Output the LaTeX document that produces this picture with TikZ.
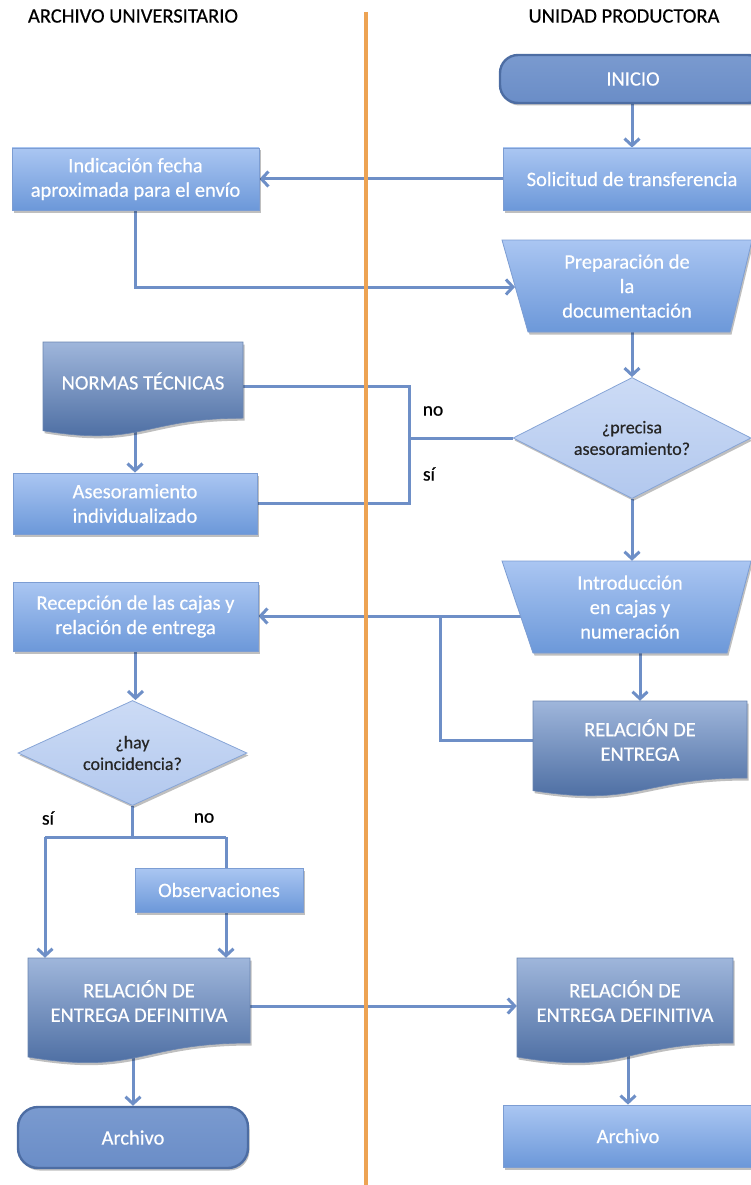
\documentclass[tikz,border=0pt]{standalone}
\usepackage{fontspec}
\setmainfont{Carlito}[FakeBold=0.4]
\usetikzlibrary{arrows.meta,shapes.geometric,shadows,backgrounds}
\definecolor{lbtop}{HTML}{AAC6F2}
\definecolor{lbbot}{HTML}{6C98D9}
\definecolor{lbedge}{HTML}{7C9DD3}
\definecolor{doctop}{HTML}{9FB6DB}
\definecolor{docbot}{HTML}{45679D}
\definecolor{termtop}{HTML}{7A9ACF}
\definecolor{termbot}{HTML}{6A8DC7}
\definecolor{termedge}{HTML}{4D6DA3}
\definecolor{dtop}{HTML}{CCDBF5}
\definecolor{dbot}{HTML}{B2C8EE}
\definecolor{dedge}{HTML}{86A4D6}
\definecolor{conncol}{HTML}{6E8FC7}
\definecolor{lane}{HTML}{EDA353}
\tikzset{
 boxshadow/.style={drop shadow={shadow xshift=1.5pt, shadow yshift=-2.5pt, opacity=0.25, fill=black}},
 boxtxt/.style={text=white, font=\fontsize{20.5}{24.5}\selectfont, align=center},
 txt/.style={boxtxt, inner sep=0pt},
 lightbox/.style={boxtxt, rectangle, draw=lbedge, line width=0.8pt, top color=lbtop, bottom color=lbbot, inner sep=0pt, boxshadow},
 terminal/.style={boxtxt, rectangle, rounded corners=18pt, draw=termedge, line width=2.4pt, top color=termtop, bottom color=termbot, inner sep=0pt, boxshadow},
 decision/.style={diamond, draw=dedge, line width=0.8pt, top color=dtop, bottom color=dbot, font=\fontsize{18}{21.5}\selectfont, align=center, text=black!85, inner sep=0pt, boxshadow},
 trapfill/.style={draw=lbedge, line width=0.8pt, top color=lbtop, bottom color=lbbot, boxshadow},
 docfill/.style={draw=docbot!80, line width=0.6pt, top color=doctop, bottom color=docbot, boxshadow},
 lbl/.style={font=\fontsize{19.5}{22}\selectfont, text=black},
 ttl/.style={font=\fontsize{20.5}{23}\selectfont, text=black},
 conn/.style={draw=conncol, line width=3pt},
 arr/.style={conn, -{Straight Barb[length=7pt,width=15pt]}},
 lanestyle/.style={draw=lane, line width=4pt}
}
\newcommand{\docshape}[4]{% x1, y1, x2, h
 \path[docfill] (#1,#2) -- (#3,#2) -- (#3,{#2+0.802*#4})
   .. controls ({(#1+#3)/2},{#2+0.802*#4}) and ({(#1+#3)/2},{#2+1.1075*#4}) .. (#1,{#2+0.934*#4}) -- cycle;}
\begin{document}
\begin{tikzpicture}[x=1pt,y=-1pt]
\useasboundingbox (0,0) rectangle (751,1185);

% lane divider and titles
\coordinate (laneTop) at (366,12);
\coordinate (laneBot) at (366,1190);
\draw[lanestyle] (laneTop) -- (laneBot);
\node[ttl] (t1) at (133,16) {ARCHIVO UNIVERSITARIO};
\node[ttl] (t2) at (624,16) {UNIDAD PRODUCTORA};

% right column
\node[terminal, minimum width=266, minimum height=48] (ini) at (633,79) {INICIO};
\node[lightbox, minimum width=258, minimum height=62] (sol) at (632,179) {Solicitud de transferencia};
\path[trapfill] (502,240) -- (752,240) -- (730,332) -- (528,332) -- cycle;
\node[txt, minimum width=250, minimum height=92] (prep) at (627,286) {Preparación de\\la\\documentación};
\coordinate (prepW) at (515,287);
\node[decision, aspect=1.97, minimum width=238, minimum height=121] (d1) at (632,438) {¿precisa\\asesoramiento?};
\path[trapfill] (502,561) -- (751,561) -- (727,653) -- (533,653) -- cycle;
\node[txt, minimum width=249, minimum height=92] (intro) at (630,607) {Introducción\\en cajas y\\numeración};
\coordinate (introW) at (525,616);
\docshape{533}{701}{747}{96}
\node[txt, minimum width=214, minimum height=78] (relE) at (640,740) {RELACIÓN DE\\ENTREGA};
\docshape{517}{958}{733}{106}
\node[txt, minimum width=216, minimum height=86] (relD2) at (625,1001) {RELACIÓN DE\\ENTREGA DEFINITIVA};
\node[lightbox, minimum width=250, minimum height=62] (arch2) at (628,1136) {Archivo};

% left column
\node[lightbox, minimum width=247, minimum height=62] (ind) at (135.5,179) {Indicación fecha\\aproximada para el envío};
\docshape{43}{342}{243}{95}
\node[txt, minimum width=200, minimum height=78] (normas) at (143,381) {NORMAS TÉCNICAS};
\node[lightbox, minimum width=244, minimum height=61] (ases) at (135,503.5) {Asesoramiento\\individualizado};
\node[lightbox, minimum width=245, minimum height=69] (rec) at (135.5,616.5) {Recepción de las cajas y\\relación de entrega};
\node[decision, aspect=2.18, minimum width=229, minimum height=105] (d2) at (132.5,753) {¿hay\\coincidencia?};
\node[lightbox, minimum width=168, minimum height=44] (obs) at (219,890) {Observaciones};
\docshape{28}{958}{250}{106}
\node[txt, minimum width=222, minimum height=86] (relD) at (139,1001) {RELACIÓN DE\\ENTREGA DEFINITIVA};
\node[terminal, rounded corners=20pt, minimum width=230, minimum height=61] (arch1) at (133,1137.5) {Archivo};

% labels
\node[lbl] (lno1) at (433,411) {no};
\node[lbl] (lsi1) at (429,474) {sí};
\node[lbl] (lsi2) at (48,818) {sí};
\node[lbl] (lno2) at (204,818) {no};

% junctions
\coordinate (jn) at (409,386);
\coordinate (js) at (409,503);
\coordinate (jb) at (440,616);
\coordinate (jl) at (45,837);
\coordinate (jr) at (226,837);

\begin{pgfonlayer}{background}
\draw[arr] (ini.south -| sol.north) -- (sol.north);
\draw[arr] (sol.west) -- (ind.east);
\draw[arr] (ind.south) |- (prepW);
\draw[arr] (d1.north |- prep.south) -- (d1.north);
\draw[conn] (normas.east |- jn) -- (jn) -- (js) -- (ases.east |- js);
\draw[conn] (d1.west) -- (d1.west -| jn);
\draw[arr] (ases.north |- normas.south) -- (ases.north);
\draw[arr] (d1.south) -- (d1.south |- intro.north);
\draw[arr] (introW) -- (rec.east |- introW);
\draw[conn] (jb) |- (relE.west);
\draw[arr] (relE.north |- intro.south) -- (relE.north);
\draw[arr] (rec.south) -- (rec.south |- d2.north);
\draw[conn] (d2.south) -- (d2.south |- jl);
\draw[conn] (jl) -- (jr);
\draw[arr] (jl) -- (jl |- relD.north);
\draw[conn] (jr) -- (jr |- obs.north);
\draw[arr] (jr |- obs.south) -- (jr |- relD.north);
\draw[arr] ([yshift=-5pt]relD.east) -- ([yshift=-5pt]relD2.west);
\draw[arr] (arch1.north |- relD.south) -- (arch1.north);
\draw[arr] (arch2.north |- relD2.south) -- (arch2.north);
\end{pgfonlayer}
\end{tikzpicture}
\end{document}
